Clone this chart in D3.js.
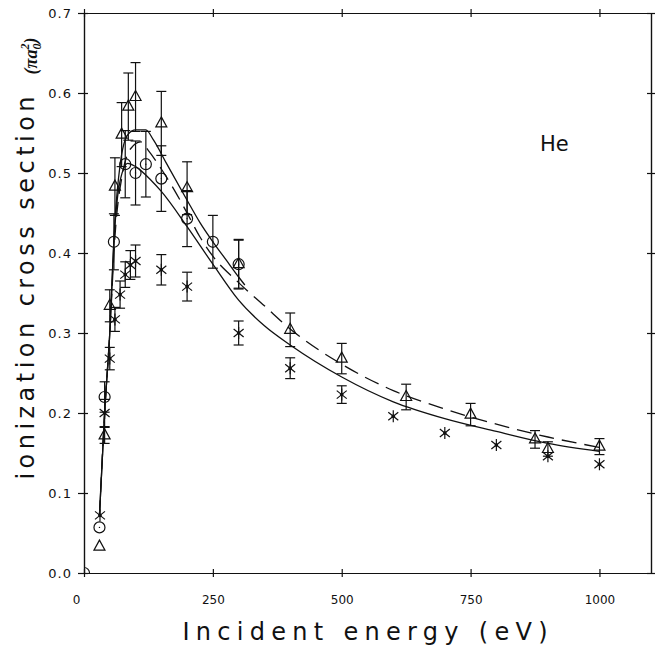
<!DOCTYPE html>
<html>
<head>
<meta charset="utf-8">
<script src="https://cdn.jsdelivr.net/npm/d3@7"></script>
<style>
  body { margin: 0; background: #fff; }
  svg { display: block; }
  .tick text { font-family: "DejaVu Sans", sans-serif; font-size: 12px; fill: #111; }
  .yaxis .tick text { font-size: 13px; letter-spacing: 1px; }
  .tick line, .domain { stroke: #111; stroke-width: 1.2px; }
</style>
</head>
<body>
<svg id="chart"></svg>
<script>
// tick values
var xTicks = [0, 250, 500, 750, 1000];
var yTicks = [0, 0.1, 0.2, 0.3, 0.4, 0.5, 0.6, 0.7];

// triangles (with error bars)
var triE = [30, 40, 50, 60, 73, 86, 100, 150, 200, 300, 400, 500, 625, 750, 875, 900, 1000];
var triV = [0.033, 0.172, 0.334, 0.483, 0.548, 0.583, 0.595, 0.562, 0.481, 0.386, 0.304, 0.268, 0.220, 0.198, 0.167, 0.155, 0.158];
var triErr = [0, 0.01, 0.02, 0.036, 0.04, 0.042, 0.043, 0.04, 0.033, 0.03, 0.021, 0.019, 0.016, 0.014, 0.011, 0.009, 0.01];

// circles
var cirE = [0, 30, 40, 58, 80, 100, 120, 150, 200, 250, 300];
var cirV = [0, 0.057, 0.22, 0.414, 0.511, 0.500, 0.511, 0.493, 0.443, 0.414, 0.386];
var cirErr = [0, 0, 0.019, 0.035, 0.042, 0.04, 0.041, 0.041, 0.035, 0.033, 0.031];

// asterisks
var starE = [31, 40, 50, 60, 70, 80, 90, 100, 150, 200, 300, 400, 500, 600, 700, 800, 900, 1000];
var starV = [0.072, 0.2, 0.268, 0.317, 0.348, 0.373, 0.385, 0.39, 0.379, 0.358, 0.3, 0.256, 0.223, 0.196, 0.175, 0.16, 0.146, 0.136];
var starErr = [0, 0.017, 0.014, 0.015, 0.017, 0.016, 0.018, 0.02, 0.019, 0.018, 0.015, 0.013, 0.011, 0, 0, 0, 0, 0];

// theory curves
var lowE = [30, 40, 50, 58, 70, 85, 100, 130, 150, 200, 250, 300, 350, 400, 500, 600, 700, 800, 900, 1000];
var lowV = [0.072, 0.2, 0.3, 0.414, 0.49, 0.512, 0.508, 0.491, 0.477, 0.433, 0.386, 0.341, 0.309, 0.285, 0.245, 0.214, 0.193, 0.177, 0.162, 0.152];

var upE = [30, 40, 50, 60, 70, 85, 100, 120, 135, 160, 200, 225, 250, 275, 300, 312];
var upV = [0.072, 0.2, 0.3, 0.44, 0.51, 0.548, 0.554, 0.554, 0.541, 0.512, 0.466, 0.438, 0.414, 0.392, 0.37, 0.36];

var dashE = [30, 40, 50, 60, 75, 90, 110, 125, 150, 175, 200, 225, 250, 300, 350, 400, 500, 600, 700, 800, 900, 1000];
var dashV = [0.072, 0.2, 0.3, 0.42, 0.5, 0.53, 0.539, 0.528, 0.505, 0.479, 0.45, 0.42, 0.396, 0.363, 0.334, 0.305, 0.261, 0.228, 0.205, 0.186, 0.17, 0.157];

var W = 665, H = 651;
var margin = { top: 13, right: 14, bottom: 78, left: 84 },
  width = W - margin.left - margin.right,
  height = H - margin.top - margin.bottom;

var svg = d3.select("#chart").attr("width", W).attr("height", H);
var g = svg.append("g")
  .attr("transform", "translate(" + margin.left + "," + margin.top + ")");

var x = d3.scaleLinear().domain([0, 1100]).range([0, width]);
var y = d3.scaleLinear().domain([0, 0.7]).range([height, 0]);

g.append("clipPath").attr("id", "plotclip")
  .append("rect").attr("width", width).attr("height", height);

// axes: outward ticks with labels, plus inward ticks
g.append("g")
  .attr("transform", "translate(0," + height + ")")
  .call(d3.axisBottom(x).tickValues(xTicks).tickSize(4).tickSizeOuter(0).tickPadding(18)
    .tickFormat(d3.format("d")))
  .call(function (a) {
    a.selectAll(".tick").filter(function (d) { return d === 0; })
      .select("text").attr("dx", -8);
  });
g.append("g")
  .attr("transform", "translate(0," + height + ")")
  .call(d3.axisBottom(x).tickValues(xTicks).tickSize(-4).tickSizeOuter(0).tickFormat(""));

g.append("g").attr("class", "yaxis")
  .call(d3.axisLeft(y).tickValues(yTicks).tickSize(6).tickSizeOuter(0).tickPadding(6)
    .tickFormat(d3.format(".1f")));
g.append("g")
  .call(d3.axisLeft(y).tickValues(yTicks).tickSize(-4).tickSizeOuter(0).tickFormat(""));

// mirrored top and right axes
g.append("g")
  .call(d3.axisTop(x).tickValues(xTicks).tickSize(4).tickSizeOuter(0).tickFormat(""));
g.append("g")
  .call(d3.axisTop(x).tickValues(xTicks).tickSize(-4).tickSizeOuter(0).tickFormat(""));
g.append("g")
  .attr("transform", "translate(" + width + ",0)")
  .call(d3.axisRight(y).tickValues(yTicks).tickSize(4).tickSizeOuter(0).tickFormat(""));
g.append("g")
  .attr("transform", "translate(" + width + ",0)")
  .call(d3.axisRight(y).tickValues(yTicks).tickSize(-4).tickSizeOuter(0).tickFormat(""));

// theory lines
function zip(a, b) { return a.map(function (v, i) { return [v, b[i]]; }); }
var line = d3.line()
  .x(function (d) { return x(d[0]); })
  .y(function (d) { return y(d[1]); })
  .curve(d3.curveMonotoneX);

g.append("path").datum(zip(lowE, lowV))
  .attr("d", line).attr("fill", "none").attr("stroke", "#111").attr("stroke-width", 1.3);
g.append("path").datum(zip(upE, upV))
  .attr("d", line).attr("fill", "none").attr("stroke", "#111").attr("stroke-width", 1.3);
g.append("path").datum(zip(dashE, dashV))
  .attr("d", line).attr("fill", "none").attr("stroke", "#111").attr("stroke-width", 1.3)
  .attr("stroke-dasharray", "15,8");

// markers
var marks = g.append("g").attr("clip-path", "url(#plotclip)")
  .attr("stroke", "#111").attr("stroke-width", 1.2).attr("fill", "none");

function errorBars(E, V, Err) {
  var d = zip(E, V).map(function (p, i) { return { e: p[0], v: p[1], err: Err[i] }; })
    .filter(function (p) { return p.err > 0; });
  var eb = marks.append("g").selectAll("g").data(d).enter().append("g");
  eb.append("line")
    .attr("x1", function (p) { return x(p.e); }).attr("x2", function (p) { return x(p.e); })
    .attr("y1", function (p) { return y(p.v - p.err); }).attr("y2", function (p) { return y(p.v + p.err); });
  [-1, 1].forEach(function (s) {
    eb.append("line")
      .attr("x1", function (p) { return x(p.e) - 5; }).attr("x2", function (p) { return x(p.e) + 5; })
      .attr("y1", function (p) { return y(p.v + s * p.err); }).attr("y2", function (p) { return y(p.v + s * p.err); });
  });
}

errorBars(triE, triV, triErr);
errorBars(cirE, cirV, cirErr);
errorBars(starE, starV, starErr);

marks.append("g").selectAll("path").data(zip(triE, triV)).enter().append("path")
  .attr("transform", function (d) { return "translate(" + x(d[0]) + "," + y(d[1]) + ")"; })
  .attr("d", "M0,-6.5L5.5,3.5L-5.5,3.5Z");

var cg = marks.append("g").selectAll("g").data(zip(cirE, cirV)).enter().append("g")
  .attr("transform", function (d) { return "translate(" + x(d[0]) + "," + y(d[1]) + ")"; });
cg.append("circle").attr("r", 5.5);
cg.append("circle").attr("r", 0.7).attr("fill", "#111").attr("stroke", "none");

var sg = marks.append("g").selectAll("g").data(zip(starE, starV)).enter().append("g")
  .attr("transform", function (d) { return "translate(" + x(d[0]) + "," + y(d[1]) + ")"; });
sg.append("path").attr("d", "M0,-6V6M-5,-4L5,4M-5,4L5,-4");
sg.append("circle").attr("r", 1.8).attr("fill", "#111").attr("stroke", "none");

// labels
svg.append("text")
  .attr("x", 540).attr("y", 151)
  .style("font-family", "DejaVu Sans, sans-serif").style("font-size", "21px")
  .attr("fill", "#111")
  .text("He");

svg.append("text")
  .attr("x", 365).attr("y", 640)
  .attr("text-anchor", "middle")
  .attr("textLength", 365).attr("lengthAdjust", "spacing")
  .style("font-family", "DejaVu Sans, sans-serif").style("font-size", "24px")
  .attr("fill", "#111")
  .text("Incident energy (eV)");

svg.append("text")
  .attr("transform", "translate(34,288) rotate(-90)")
  .attr("text-anchor", "middle")
  .attr("textLength", 383).attr("lengthAdjust", "spacing")
  .style("font-family", "DejaVu Sans, sans-serif").style("font-size", "24px")
  .attr("fill", "#111")
  .text("ionization cross section");

var unit = svg.append("text")
  .attr("transform", "translate(37,56) rotate(-90)")
  .attr("text-anchor", "middle")
  .style("font-family", "Liberation Serif, serif").style("font-size", "18px")
  .style("font-weight", "bold").style("font-style", "italic")
  .attr("fill", "#111");
unit.append("tspan").text("(\u03c0a");
unit.append("tspan").attr("dy", 4).style("font-size", "12px").text("0");
unit.append("tspan").attr("dx", -6).attr("dy", -12).style("font-size", "12px").text("2");
unit.append("tspan").attr("dy", 8).text(")");
</script>
</body>
</html>
